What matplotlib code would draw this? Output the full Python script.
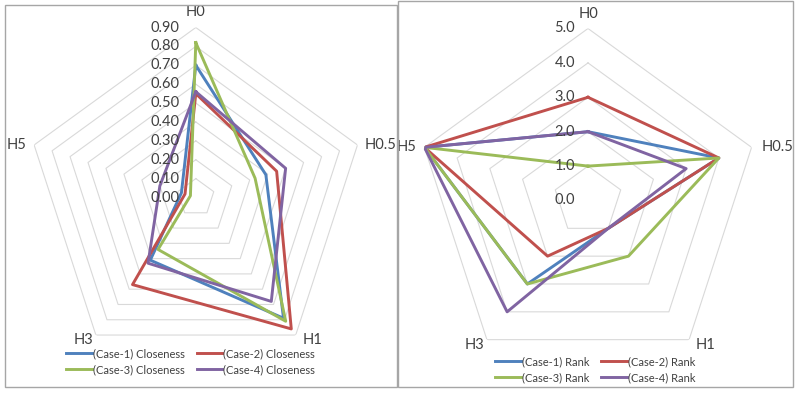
import numpy as np
import matplotlib.pyplot as plt
from matplotlib.patches import Rectangle

plt.rcParams['font.family'] = ['Lato', 'DejaVu Sans']

cats = ['H0', 'H0.5', 'H1', 'H3', 'H5']
colors = ['#4F81BD', '#C0504D', '#9BBB59', '#8064A2']

# closeness values (left chart)
close1 = [0.70, 0.39, 0.79, 0.41, 0.08]
close2 = [0.55, 0.45, 0.86, 0.57, 0.06]
close3 = [0.82, 0.33, 0.81, 0.34, 0.03]
close4 = [0.56, 0.50, 0.68, 0.43, 0.20]
close_names = ['(Case-1) Closeness', '(Case-2) Closeness',
               '(Case-3) Closeness', '(Case-4) Closeness']
close_ticks = [0.0, 0.1, 0.2, 0.3, 0.4, 0.5, 0.6, 0.7, 0.8, 0.9]

# rank values (right chart)
rank1 = [2, 4, 1, 3, 5]
rank2 = [3, 4, 1, 2, 5]
rank3 = [1, 4, 2, 3, 5]
rank4 = [2, 3, 1, 4, 5]
rank_names = ['(Case-1) Rank', '(Case-2) Rank', '(Case-3) Rank', '(Case-4) Rank']
rank_ticks = [0, 1, 2, 3, 4, 5]

txt_col = '#404040'
W, H = 799, 393


def radar(rect, series, names, ticks, fmt, tick_dx, cat_off):
    ax = fig.add_axes(rect, projection='polar')
    ax.set_theta_zero_location('N')
    ax.set_theta_direction(-1)
    th = np.linspace(0, 2 * np.pi, len(cats), endpoint=False)
    thc = np.append(th, th[0])
    for t in ticks[1:]:
        ax.plot(thc, [t] * len(thc), color='#d9d9d9', lw=0.8, zorder=1)
    for vals, c, n in zip(series, colors, names):
        ax.plot(thc, vals + vals[:1], color=c, lw=2.1, label=n, zorder=3)
    ax.set_ylim(0, ticks[-1])
    ax.grid(False)
    ax.spines['polar'].set_visible(False)
    ax.set_xticks([])
    ax.set_yticks([])
    ax.patch.set_alpha(0)
    for t in ticks:
        ax.annotate(fmt.format(t), (0, t), xytext=(tick_dx, 0),
                    textcoords='offset pixels', ha='right', va='center',
                    fontsize=10.5, color=txt_col, zorder=5)
    for i, lab in enumerate(cats):
        dx, dy, ha = cat_off[i]
        ax.annotate(lab, (th[i], ticks[-1]), xytext=(dx, dy),
                    textcoords='offset pixels', ha=ha, va='center',
                    fontsize=10.5, color=txt_col)
    return ax


fig = plt.figure(figsize=(W / 100, H / 100), dpi=100)

# panel borders
fig.patches.append(Rectangle((5 / W, 6 / H), 392 / W, 382 / H,
                             transform=fig.transFigure, fill=False,
                             edgecolor='#a6a6a6', lw=1))
fig.patches.append(Rectangle((398 / W, 6 / H), 395 / W, 386 / H,
                             transform=fig.transFigure, fill=False,
                             edgecolor='#a6a6a6', lw=1))

cx, cy, R = 195.8, 197.5, 170
ax1 = radar([(cx - R) / W, (H - cy - R) / H, 2 * R / W, 2 * R / H],
            [close1, close2, close3, close4], close_names, close_ticks,
            '{:.2f}', -16,
            [(0, 16, 'center'), (7, 0, 'left'), (17, -5, 'center'),
             (-12, -5, 'center'), (-8, 0, 'right')])

cx, cy, R = 588, 200.5, 172
ax2 = radar([(cx - R) / W, (H - cy - R) / H, 2 * R / W, 2 * R / H],
            [rank1, rank2, rank3, rank4], rank_names, rank_ticks,
            '{:.1f}', -13,
            [(0, 14, 'center'), (10, 0, 'left'), (16, -5, 'center'),
             (-12, -5, 'center'), (-8, 0, 'right')])

leg_kw = dict(ncol=2, frameon=False, fontsize=8, handlelength=2.3,
              handletextpad=0.1, columnspacing=1.1, labelspacing=0.45,
              borderpad=0, borderaxespad=0, loc='upper left',
              bbox_transform=fig.transFigure)
order = [0, 2, 1, 3]  # row-wise fill like Excel
legs = []
for ax, x0, y0 in [(ax1, 66, 348), (ax2, 495, 356)]:
    h, lb = ax.get_legend_handles_labels()
    l = ax.legend([h[i] for i in order], [lb[i] for i in order],
                  bbox_to_anchor=(x0 / W, 1 - y0 / H), **leg_kw)
    for tx in l.get_texts():
        tx.set_color(txt_col)

plt.savefig('out.png', dpi=100)
